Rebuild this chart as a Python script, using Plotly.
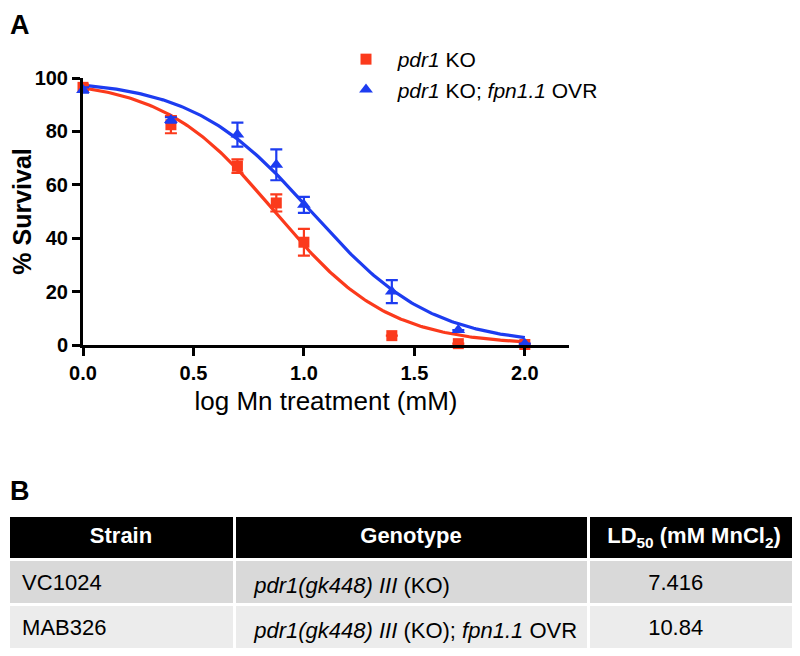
import numpy as np
import plotly.graph_objects as go

# ---- data ----
log_dose = [0.0, 0.398, 0.699, 0.875, 1.0, 1.398, 1.699, 2.0]
ko_mean = [96.5, 82.5, 67.0, 53.2, 38.5, 3.5, 0.5, 0.2]
ko_err = [1.0, 3.2, 2.5, 3.2, 5.0, 0.0, 0.0, 0.0]
ovr_mean = [95.5, 84.3, 78.8, 67.5, 52.5, 20.0, 5.6, 0.5]
ovr_err = [1.0, 1.0, 4.5, 5.8, 3.0, 4.3, 0.0, 0.0]

# fitted dose-response parameters (LD50 from table)
ko_ld50 = 7.416
ovr_ld50 = 10.84
ko_hill = 1.7
ovr_hill = 1.6
fit_top = 99.5

series_names = ["<i>pdr1</i> KO", "<i>pdr1</i> KO; <i>fpn1.1</i> OVR"]

table_strain = ["VC1024", "MAB326"]
table_genotype = ["<i>pdr1(gk448) III</i> (KO)",
                  "<i>pdr1(gk448) III</i> (KO); <i>fpn1.1</i> OVR"]
table_ld50 = ["7.416", "10.84"]
table_header = ["<b>Strain</b>", "<b>Genotype</b>",
                "<b>LD<sub>50</sub> (mM MnCl<sub>2</sub>)</b>"]

RED = "#fb3a1c"
BLUE = "#1d3cf0"
OFF = 8                      # page body margin
W, H = 800 - OFF, 656 - OFF
FONT = "Liberation Sans, Arial, sans-serif"
nb = "\u00a0"


def px(xp):
    return (xp - OFF) / W


def py(yp):
    return 1 - (yp - OFF) / H


xs = np.linspace(0, 2, 200)


def fit(ld50, hill):
    return fit_top / (1 + 10 ** ((xs - np.log10(ld50)) * hill))


fig = go.Figure()

fig.add_trace(go.Scatter(x=xs, y=fit(ko_ld50, ko_hill), mode="lines",
                         line=dict(color=RED, width=3.2), showlegend=False,
                         cliponaxis=False, hoverinfo="skip"))
fig.add_trace(go.Scatter(x=xs, y=fit(ovr_ld50, ovr_hill), mode="lines",
                         line=dict(color=BLUE, width=3.2), showlegend=False,
                         cliponaxis=False, hoverinfo="skip"))

fig.add_trace(go.Scatter(
    x=log_dose, y=ko_mean, mode="markers", name=nb * 2 + series_names[0],
    marker=dict(symbol="square", size=11, color=RED),
    error_y=dict(type="data", array=ko_err, color=RED, thickness=2.2, width=6),
    cliponaxis=False))
fig.add_trace(go.Scatter(
    x=log_dose, y=ovr_mean, mode="markers", name=nb * 2 + series_names[1],
    marker=dict(symbol="triangle-up", size=12, color=BLUE),
    error_y=dict(type="data", array=ovr_err, color=BLUE, thickness=2.2, width=6),
    cliponaxis=False))

TOP, HDR, ROW, SHIFT = 515, 44, 45, 6
n_rows = len(table_strain)
col_w = [226, 354, 212]
row_fills = [["#d9d9d9", "#ececec"]] * 3
# table frame: header text + cell fills
fig.add_trace(go.Table(
    domain=dict(x=[0, 1], y=[py(TOP + HDR + ROW * n_rows), py(TOP)]),
    columnwidth=col_w,
    header=dict(values=table_header, fill_color="black",
                font=dict(color="white", size=22, family=FONT),
                align="center", height=HDR,
                line=dict(color="white", width=3)),
    cells=dict(values=[[""] * n_rows] * 3,
               fill_color=row_fills, height=ROW,
               line=dict(color="white", width=3)),
))
# table body text (vertically centred in the rows)
fig.add_trace(go.Table(
    domain=dict(x=[0, 1],
                y=[max(0, py(TOP + HDR + SHIFT + ROW * n_rows)), py(TOP)]),
    columnwidth=col_w,
    header=dict(values=["", "", ""], fill_color="rgba(0,0,0,0)",
                height=HDR + SHIFT, line=dict(color="rgba(0,0,0,0)", width=0)),
    cells=dict(values=[table_strain, table_genotype, table_ld50],
               fill_color="rgba(0,0,0,0)",
               font=dict(color="black", size=22, family=FONT),
               align=["left", "left", "center"], height=ROW,
               prefix=[nb, nb, ""], suffix=["", "", nb * 6],
               line=dict(color="rgba(0,0,0,0)", width=0)),
))

fig.update_layout(
    width=W, height=H,
    margin=dict(l=0, r=0, t=0, b=0, autoexpand=False),
    paper_bgcolor="white", plot_bgcolor="white",
    font=dict(family=FONT, color="black"),
    xaxis=dict(domain=[px(83), px(569)], range=[0, 2.2 * (569 - 83) / 486],
               tickvals=[0, 0.5, 1.0, 1.5, 2.0],
               ticktext=["<b>0.0</b>", "<b>0.5</b>", "<b>1.0</b>",
                         "<b>1.5</b>", "<b>2.0</b>"],
               showline=True, linecolor="black", linewidth=3,
               ticks="outside", ticklen=8, tickwidth=2.5, tickcolor="black",
               showgrid=False, zeroline=False, automargin=False,
               tickfont=dict(size=20, family=FONT),
               title=dict(text="log Mn treatment (mM)",
                          font=dict(size=26, family=FONT), standoff=9)),
    yaxis=dict(domain=[py(345), py(78)], range=[0, 100],
               tickvals=[0, 20, 40, 60, 80, 100],
               ticktext=["<b>0</b>", "<b>20</b>", "<b>40</b>", "<b>60</b>",
                         "<b>80</b>", "<b>100</b>"],
               showline=True, linecolor="black", linewidth=3,
               ticks="outside", ticklen=8, tickwidth=2.5, tickcolor="black",
               showgrid=False, zeroline=False, automargin=False,
               tickfont=dict(size=20, family=FONT),
               title=dict(text="<b>% Survival</b>",
                          font=dict(size=25, family=FONT), standoff=10)),
    legend=dict(x=px(346), y=py(39), xanchor="left", yanchor="top",
                font=dict(size=21, family=FONT), bgcolor="rgba(0,0,0,0)",
                itemwidth=30, tracegroupgap=0),
    annotations=[
        dict(text="<b>A</b>", x=0, y=1, xref="paper", yref="paper",
             xanchor="left", yanchor="top", showarrow=False,
             font=dict(size=27, family=FONT)),
        dict(text="<b>B</b>", x=0, y=py(474), xref="paper", yref="paper",
             xanchor="left", yanchor="top", showarrow=False,
             font=dict(size=27, family=FONT)),
    ],
)

fig.write_html("out.html")
